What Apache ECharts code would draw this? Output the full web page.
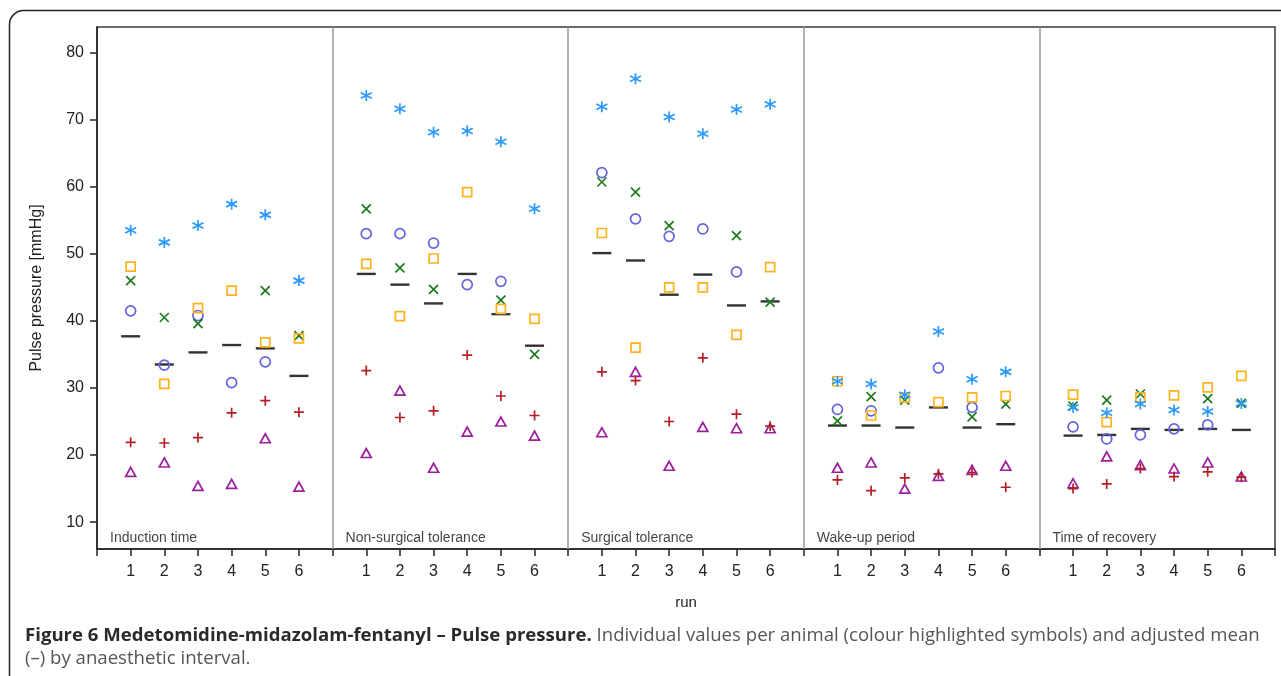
<!DOCTYPE html>
<html>
<head>
<meta charset="utf-8">
<script src="https://cdn.jsdelivr.net/npm/echarts@6/dist/echarts.min.js"></script>
<style>
html,body{margin:0;padding:0;background:#fff;}
#chart{width:1281px;height:676px;}
</style>
</head>
<body>
<div id="chart"></div>
<script>
// ---------- data ----------
const periods = ['Induction time', 'Non-surgical tolerance', 'Surgical tolerance', 'Wake-up period', 'Time of recovery'];
const runs = [1, 2, 3, 4, 5, 6];
const yTicks = [10, 20, 30, 40, 50, 60, 70, 80];

// values per animal, 6 runs for each of the 5 periods (null = no value)
const animalStar = [
  53.5, 51.7, 54.2, 57.4, 55.8, 46.0,
  73.6, 71.6, 68.1, 68.3, 66.7, 56.7,
  71.9, 76.1, 70.4, 67.9, 71.5, 72.3,
  31.0, 30.6, 29.0, 38.4, 31.3, 32.4,
  27.1, 26.3, 27.6, 26.7, 26.5, 27.7
];
const animalSquare = [
  48.1, 30.6, 41.9, 44.5, 36.8, 37.4,
  48.5, 40.7, 49.3, 59.2, 41.8, 40.3,
  53.1, 36.0, 45.0, 45.0, 37.9, 48.0,
  31.0, 25.9, 28.6, 27.9, 28.6, 28.8,
  29.0, 24.9, 28.6, 28.9, 30.1, 31.8
];
const animalCross = [
  46.0, 40.5, 39.6, null, 44.5, 37.8,
  56.7, 47.9, 44.7, null, 43.1, 35.0,
  60.7, 59.2, 54.2, null, 52.7, 42.8,
  25.1, 28.7, 28.2, null, 25.7, 27.6,
  27.3, 28.2, 29.1, null, 28.4, 27.7
];
const animalCircle = [
  41.5, 33.4, 40.8, 30.8, 33.9, null,
  53.0, 53.0, 51.6, 45.4, 45.9, null,
  62.1, 55.2, 52.6, 53.7, 47.3, null,
  26.8, 26.6, null, 33.0, 27.1, null,
  24.2, 22.4, 23.0, 23.9, 24.5, null
];
const animalPlus = [
  21.9, 21.8, 22.6, 26.3, 28.1, 26.4,
  32.6, 25.6, 26.6, 34.9, 28.8, 25.9,
  32.4, 31.1, 25.0, 34.5, 26.1, 24.3,
  16.3, 14.7, 16.6, 17.2, 17.4, 15.2,
  15.0, 15.7, 18.0, 16.8, 17.5, 16.7
];
const animalTriangle = [
  17.5, 18.9, 15.4, 15.7, 22.5, 15.3,
  20.3, 29.6, 18.1, 23.5, 25.0, 22.9,
  23.4, 32.4, 18.4, 24.2, 24.0, 24.0,
  18.1, 18.9, 15.0, 16.9, 17.8, 18.4,
  15.8, 19.8, 18.5, 18.0, 18.9, 16.8
];
const adjustedMean = [
  37.7, 33.5, 35.3, 36.4, 35.9, 31.8,
  47.0, 45.4, 42.6, 47.0, 41.0, 36.3,
  50.1, 49.0, 43.9, 46.9, 42.3, 42.9,
  24.4, 24.4, 24.1, 27.1, 24.1, 24.6,
  22.9, 23.0, 23.9, 23.75, 23.9, 23.75
];

// ---------- helpers ----------
const SLOT = runs.length + 1;           // 7 x-units per period panel
const X_MAX = periods.length * SLOT;
const Y_MIN = 6, Y_MAX = 83.8;

function toPoints(arr) {
  const out = [];
  arr.forEach((v, i) => {
    if (v == null) return;
    const p = Math.floor(i / runs.length);
    out.push([p * SLOT + runs[i % runs.length], v]);
  });
  return out;
}

const PATH_STAR = 'path://M5,0L5,10M0.67,2.5L9.33,7.5M0.67,7.5L9.33,2.5';
const PATH_CROSS = 'path://M0,0L10,10M0,10L10,0';
const PATH_PLUS = 'path://M5,0L5,10M0,5L10,5';

function markerSeries(name, data, symbol, size, color) {
  return {
    name, type: 'scatter', data: toPoints(data), symbol, symbolSize: size,
    itemStyle: { color: 'rgba(0,0,0,0)', borderColor: color, borderWidth: 1.7, opacity: 1 },
    emphasis: { disabled: true }, silent: true, animation: false
  };
}

const chart = echarts.init(document.getElementById('chart'), null, { renderer: 'canvas' });

const option = {
  backgroundColor: '#fff',
  animation: false,
  grid: { left: 97, right: 6, top: 27, bottom: 127, show: true, borderColor: '#3a3a3a', borderWidth: 1.5 },
  xAxis: {
    type: 'value', min: 0, max: X_MAX, interval: 1,
    name: 'run', nameLocation: 'middle', nameGap: 46,
    nameTextStyle: { fontFamily: 'Liberation Sans', fontSize: 15, color: '#222' },
    axisLine: { show: true, onZero: false, lineStyle: { color: '#222', width: 1.5 } },
    axisTick: { show: true, length: 7, lineStyle: { color: '#222', width: 1.5 } },
    axisLabel: {
      fontFamily: 'Liberation Sans', fontSize: 16, color: '#222', margin: 15,
      formatter: v => (v % SLOT === 0 ? '' : String(runs[(v % SLOT) - 1]))
    },
    splitLine: { show: false }
  },
  yAxis: {
    type: 'value', min: Y_MIN, max: Y_MAX,
    name: 'Pulse pressure [mmHg]', nameLocation: 'middle', nameGap: 52,
    nameTextStyle: { fontFamily: 'Liberation Sans', fontSize: 16, color: '#222' },
    axisLine: { show: true, lineStyle: { color: '#222', width: 1.5 } },
    axisTick: { show: true, length: 7, customValues: yTicks, lineStyle: { color: '#222', width: 1.5 } },
    axisLabel: { customValues: yTicks, fontFamily: 'Liberation Sans', fontSize: 16, color: '#222', margin: 13 },
    splitLine: { show: false }
  },
  series: [
    {
      name: 'panels', type: 'scatter', symbolSize: 0, silent: true, animation: false,
      data: periods.map((p, i) => ({ name: p, value: [i * SLOT, Y_MIN] })),
      label: {
        show: true, formatter: '{b}', position: 'right', distance: 0, offset: [13, -11],
        fontFamily: 'Liberation Sans', fontSize: 14, color: '#111'
      },
      markLine: {
        silent: true, symbol: ['none', 'none'], animation: false,
        label: { show: false },
        lineStyle: { color: '#9a9a9a', width: 1.5, type: 'solid' },
        data: periods.slice(1).map((p, i) => ({ xAxis: (i + 1) * SLOT }))
      }
    },
    {
      name: 'Adjusted mean', type: 'scatter', data: toPoints(adjustedMean),
      symbol: 'rect', symbolSize: [19, 2.4], itemStyle: { color: '#000' },
      emphasis: { disabled: true }, silent: true, animation: false
    },
    markerSeries('animal 6', animalTriangle, 'triangle', [10, 9], '#9c1f9e'),
    markerSeries('animal 5', animalPlus, PATH_PLUS, 10, '#b41e24'),
    markerSeries('animal 4', animalCircle, 'circle', 10, '#6363e0'),
    markerSeries('animal 3', animalCross, PATH_CROSS, 9, '#1e7a1e'),
    markerSeries('animal 2', animalSquare, 'rect', 9, '#ffb21c'),
    markerSeries('animal 1', animalStar, PATH_STAR, 11, '#2b99ff')
  ],
  graphic: [
    {
      type: 'rect', silent: true, z: -10,
      shape: { x: 9.5, y: 10.5, width: 1400, height: 800, r: 14 },
      style: { fill: 'none', stroke: '#222', lineWidth: 1.5 }
    },
    {
      type: 'text', left: 25, top: 626, silent: true,
      style: {
        text: '{b|Figure 6 Medetomidine-midazolam-fentanyl \u2013 Pulse pressure.}{n| Individual values per animal (colour highlighted symbols) and adjusted mean}\n{n|(\u2013) by anaesthetic interval.}',
        rich: {
          b: { fontFamily: 'Open Sans', fontSize: 18.6, fontWeight: 'bold', fill: '#2a2a2a', lineHeight: 23 },
          n: { fontFamily: 'Open Sans', fontSize: 18.6, fill: '#555', lineHeight: 23 }
        }
      }
    }
  ]
};

chart.setOption(option);
</script>
</body>
</html>
